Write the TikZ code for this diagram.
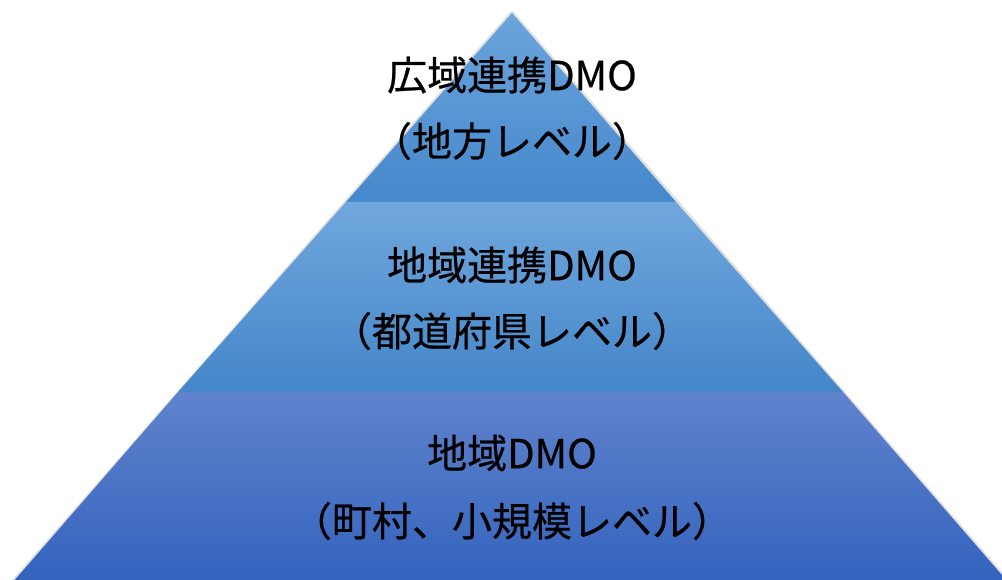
\documentclass[tikz,border=0pt]{standalone}
\usepackage{fontspec}
\newfontfamily\jp[FakeBold=0.6]{Noto Sans CJK JP}
\begin{document}
\begin{tikzpicture}[x=1pt,y=-1pt,
  lbl/.style={font=\jp\fontsize{40}{40}\selectfont, text=black, inner sep=0pt, anchor=center},
  shd/.style={draw=black, draw opacity=0.12, line width=4pt, line join=round}]
\useasboundingbox (0,0) rectangle (1002,580);
\fill[white] (0,0) rectangle (1002,580);
% apex and tier corners
\coordinate (apex) at (512,13);
\coordinate (l1) at (346,202);
\coordinate (r1) at (676,202);
\coordinate (l2) at (178,392);
\coordinate (r2) at (843,392);
\coordinate (l3) at (13,582);
\coordinate (r3) at (1008,582);
% soft shadow
\draw[shd, shift={(1.5,1.5)}] (apex) -- (l3) -- (r3) -- cycle;
% tiers
\shade[top color={rgb,255:red,108;green,164;blue,220}, bottom color={rgb,255:red,69;green,136;blue,204}]
  (apex) -- (r1) -- (l1) -- cycle;
\shade[top color={rgb,255:red,112;green,167;blue,221}, bottom color={rgb,255:red,68;green,134;blue,201}]
  (l1) -- (r1) -- (r2) -- (l2) -- cycle;
\shade[top color={rgb,255:red,96;green,131;blue,204}, bottom color={rgb,255:red,51;green,99;blue,189}]
  (l2) -- (r2) -- (r3) -- (l3) -- cycle;
% labels
\node[lbl] (t1) at (512,75) {広域連携DMO};
\node[lbl] (t2) at (512,141) {（地方レベル）};
\node[lbl] (m1) at (512,265) {地域連携DMO};
\node[lbl] (m2) at (512,331) {（都道府県レベル）};
\node[lbl] (b1) at (512,453) {地域DMO};
\node[lbl] (b2) at (512,521) {（町村、小規模レベル）};
\end{tikzpicture}
\end{document}
